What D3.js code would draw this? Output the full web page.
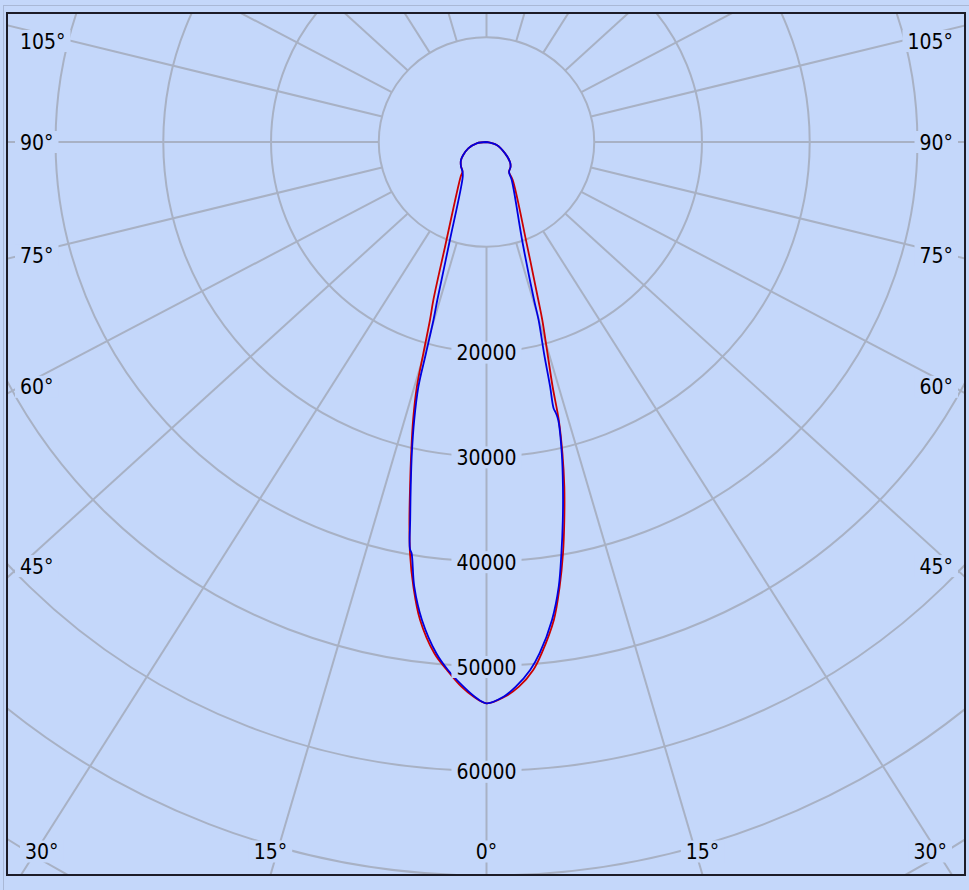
<!DOCTYPE html>
<html><head><meta charset="utf-8">
<script src="https://cdnjs.cloudflare.com/ajax/libs/d3/7.8.5/d3.min.js"></script>
<style>html,body{margin:0;padding:0;background:#c4d7fa;overflow:hidden}</style>
</head><body><svg id="chart" width="969" height="890"></svg>
<script>
// ---------- data ----------
const ringValues = [10000, 20000, 30000, 40000, 50000, 60000, 70000, 80000, 90000];
const ringLabelValues = [20000, 30000, 40000, 50000, 60000];
const spokeAngles = [0, 15, 30, 45, 60, 75, 90, 105, 120, 135, 150, 165, 180, 195, 210, 225, 240, 255, 270, 285, 300, 315, 330, 345];
const angleLabels = [0, 15, 30, 45, 60, 75, 90, 105];

// shared low-intensity part (gamma in degrees, intensity in cd)
const bulbLeftGamma  = [36.5, 44, 52.2, 58.4, 69.1, 81.7, 90];
const bulbLeftI      = [3500, 3190, 2800, 2370, 1690, 860, 0];
const bulbRightGamma = [34.3, 41.1, 46.9, 56, 72, 90];
const bulbRightI     = [3470, 3170, 2790, 1940, 930, 0];

// red series
const redLeftGamma  = [0, 1.2, 2.4, 3.9, 5.3, 7.2, 8.5, 9.6, 10.5, 11.4, 12.4, 13.5, 14.5, 15.2, 16.1, 17.0, 19.8, 34.1];
const redLeftI      = [53560, 52940, 52020, 50500, 49000, 45970, 42900, 39800, 36690, 33550, 30420, 27270, 24120, 20900, 17680, 15760, 10620, 4000];
const redRightGamma = [0, 1.7, 3.1, 4.6, 5.6, 7.3, 8.5, 9.6, 10.6, 11.6, 12.5, 13.3, 13.8, 14.7, 15.9, 16.6, 19.8, 32.1];
const redRightI     = [53560, 52960, 52050, 50540, 49020, 45980, 42910, 39800, 36690, 33570, 30430, 27260, 24050, 20840, 17660, 15730, 10280, 4280];

// blue series
const blueLeftGamma  = [0, 1.1, 2.2, 3.8, 5.1, 7.0, 8.4, 9.4, 9.7, 10.4, 11.3, 12.3, 13.3, 14.2, 14.6, 15.15, 15.8, 18.5, 31.9];
const blueLeftI      = [53560, 52940, 52010, 50490, 48980, 45950, 42890, 39780, 39400, 36670, 33540, 30400, 27250, 24080, 20830, 17600, 15670, 10190, 3900];
const blueRightGamma = [0, 1.6, 2.8, 4.3, 5.4, 7.1, 8.4, 9.4, 10.4, 11.4, 12.4, 13.2, 13.1, 12.9, 13.3, 13.9, 14.9, 15.3, 18.0, 31.1];
const blueRightI     = [53560, 52950, 52040, 50520, 49000, 45960, 42890, 39780, 36670, 33550, 30410, 27250, 26550, 26030, 23990, 20770, 17570, 15630, 10160, 4240];

// ---------- layout ----------
const W = 969, H = 890;
const plot = {x0: 7, y0: 13, x1: 965, y1: 875};
const cx = 486.5, cy = 142;
const kx = 1.1;          // horizontal angular stretch of the diagram
const ringAspect = 1.028;
const BG = "rgb(196,215,250)";
const GRID = "#a8b1c4";
const FONT = "'DejaVu Sans Condensed','DejaVu Sans',sans-serif";
const FS = 21;

const r = d3.scaleLinear().domain([0, 10000]).range([0, 104.8]);
const rad = d => d * Math.PI / 180;
function pt(g, I, side) {
  return [cx + side * kx * r(I) * Math.sin(rad(g)), cy + r(I) * Math.cos(rad(g))];
}

const svg = d3.select("#chart");
svg.append("rect").attr("width", W).attr("height", H).attr("fill", BG);
svg.append("rect").attr("x", 3.5).attr("y", 5.5).attr("width", W).attr("height", H)
  .attr("fill", "none").attr("stroke", "#a9b8d6").attr("stroke-width", 1);

svg.append("defs").append("clipPath").attr("id", "clip").append("rect")
  .attr("x", plot.x0).attr("y", plot.y0).attr("width", plot.x1 - plot.x0).attr("height", plot.y1 - plot.y0);

const g = svg.append("g").attr("clip-path", "url(#clip)");

// rings
g.selectAll("ellipse.ring").data(ringValues.slice(1)).join("ellipse")
  .attr("class", "ring").attr("cx", cx).attr("cy", cy)
  .attr("rx", d => r(d) * ringAspect).attr("ry", d => r(d))
  .attr("fill", "none").attr("stroke", GRID).attr("stroke-width", 2);

// spokes
const r1 = r(ringValues[0]);
g.selectAll("line.spoke").data(spokeAngles).join("line")
  .attr("class", "spoke")
  .each(function(a) {
    const dx = kx * Math.sin(rad(a)), dy = Math.cos(rad(a));
    const t0 = r1 / Math.sqrt((dx / ringAspect) ** 2 + dy * dy);
    d3.select(this).attr("x1", cx + dx * t0).attr("y1", cy + dy * t0)
      .attr("x2", cx + dx * 2000).attr("y2", cy + dy * 2000);
  })
  .attr("stroke", GRID).attr("stroke-width", 2);

// inner disc
g.append("ellipse").attr("cx", cx).attr("cy", cy)
  .attr("rx", r1 * ringAspect).attr("ry", r1)
  .attr("fill", BG).attr("stroke", GRID).attr("stroke-width", 2);

// curves
function seriesPoints(lg, li, rg, ri) {
  const left = lg.map((d, i) => pt(d, li[i], -1)).concat(bulbLeftGamma.map((d, i) => pt(d, bulbLeftI[i], -1)));
  const right = rg.map((d, i) => pt(d, ri[i], 1)).concat(bulbRightGamma.map((d, i) => pt(d, bulbRightI[i], 1)));
  return left.reverse().concat(right.slice(1));
}
const line = d3.line().curve(d3.curveCatmullRom.alpha(0.5));
g.append("path").attr("d", line(seriesPoints(redLeftGamma, redLeftI, redRightGamma, redRightI)))
  .attr("fill", "none").attr("stroke", "#cc0000").attr("stroke-width", 1.8).attr("stroke-linejoin", "round");
g.append("path").attr("d", line(seriesPoints(blueLeftGamma, blueLeftI, blueRightGamma, blueRightI)))
  .attr("fill", "none").attr("stroke", "#0000e0").attr("stroke-width", 1.8).attr("stroke-linejoin", "round");

// label helper with background box
function label(x, y, text, anchor) {
  const grp = svg.append("g");
  const rect = grp.append("rect").attr("fill", BG);
  const t = grp.append("text").attr("x", x).attr("y", y + 0.36 * FS)
    .attr("text-anchor", anchor).attr("font-family", FONT).attr("font-size", FS)
    .attr("fill", "#000").text(text);
  const b = t.node().getBBox();
  rect.attr("x", b.x - 5).attr("y", y - 11).attr("width", b.width + 10).attr("height", 22);
  return {grp, t, b};
}

// ring labels
ringLabelValues.forEach(v => label(cx, cy + r(v) + 1, String(v), "middle"));

// angle labels
const edgeL = 20, edgeR = 953, topY = 41, botY = 851.5;
angleLabels.forEach(a => {
  const sides = a === 0 ? [1] : [-1, 1];
  sides.forEach(side => {
    const dx = side * kx * Math.sin(rad(a)), dy = Math.cos(rad(a));
    const tb = dy > 1e-9 ? (plot.y1 - cy) / dy : Infinity;
    const ts = Math.abs(dx) > 1e-9 ? ((side < 0 ? plot.x0 : plot.x1) - cx) / dx : Infinity;
    const txt = a + "°";
    if (tb <= ts) {
      let x = cx + dx * tb;
      const L = label(x, botY, txt, "middle");
      const w = L.b.width;
      const xc = Math.max(25 + w / 2, Math.min(947 - w / 2, x));
      L.grp.attr("transform", `translate(${xc - x},0)`);
    } else {
      const xe = side < 0 ? edgeL : edgeR;
      let y = cy + dy * ((xe - cx) / dx);
      y = Math.max(topY, Math.min(botY, y));
      label(xe, y, txt, side < 0 ? "start" : "end");
    }
  });
});

// frame
svg.append("rect").attr("x", plot.x0).attr("y", plot.y0)
  .attr("width", plot.x1 - plot.x0).attr("height", plot.y1 - plot.y0)
  .attr("fill", "none").attr("stroke", "#1c1c28").attr("stroke-width", 2);
</script></body></html>
